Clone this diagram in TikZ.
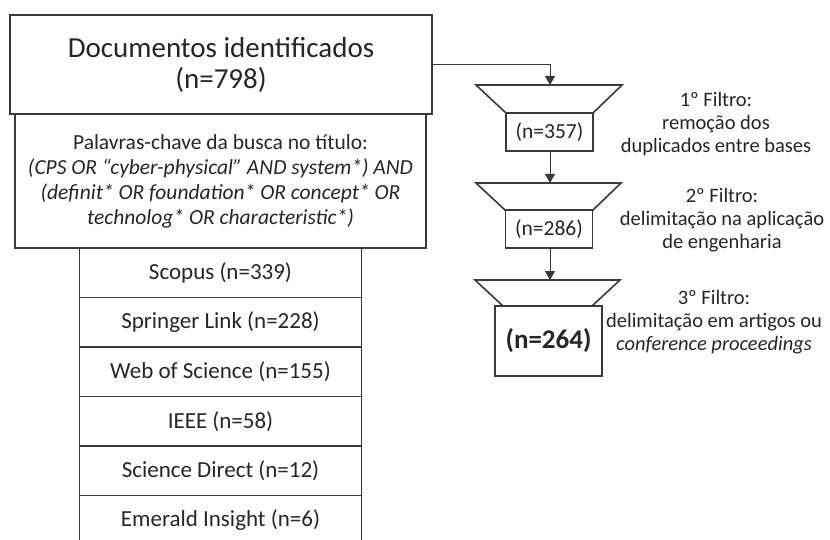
\documentclass[tikz,border=0pt]{standalone}
\usepackage{fontspec}
\setmainfont{Carlito}
\usetikzlibrary{arrows.meta}
\definecolor{ln}{HTML}{3A3A3A}
\definecolor{tx}{HTML}{262626}
\begin{document}
\begin{tikzpicture}[x=1pt,y=-1pt,
  box/.style={draw=ln, line width=1.6pt, text=tx, inner sep=0pt, align=center, anchor=center},
  dbbox/.style={box, minimum width=282pt, minimum height=49.5pt, font=\fontsize{23}{27}\selectfont},
  fbox/.style={box, minimum width=87pt, minimum height=38pt, font=\fontsize{21.5}{24}\selectfont},
  funnel/.style={draw=ln, line width=1.6pt, line join=miter},
  conn/.style={draw=ln, line width=1pt, -{Triangle[length=9pt,width=10pt]}},
  lbl/.style={text=tx, align=center, font=\fontsize{20.5}{23}\selectfont}
]
\useasboundingbox (0,0) rectangle (830,540);
\fill[white] (0,0) rectangle (830,540);
\clip (0,0) rectangle (830,540);

% left column
\node[box, minimum width=422pt, minimum height=99pt, font=\fontsize{29}{31}\selectfont] (top) at (221,64.5) {Documentos identificados\\(n=798)};
\node[box, minimum width=411pt, minimum height=134pt, font=\fontsize{21.5}{25}\selectfont] (kw) at (220.5,181) {Palavras-chave da busca no título:\\\textit{(CPS OR “cyber-physical” AND system*) AND}\\\textit{(definit* OR foundation* OR concept* OR}\\\textit{technolog* OR characteristic*)}};
\node[dbbox] (db1) at (220.5,272.75) {Scopus (n=339)};
\node[dbbox] (db2) at (220.5,322.25) {Springer Link (n=228)};
\node[dbbox] (db3) at (220.5,371.75) {Web of Science (n=155)};
\node[dbbox] (db4) at (220.5,421.25) {IEEE (n=58)};
\node[dbbox] (db5) at (220.5,470.75) {Science Direct (n=12)};
\node[dbbox] (db6) at (220.5,520.25) {Emerald Insight (n=6)};

% funnels
\draw[funnel] (476,85) -- (622,85) -- (593,113) -- (506,113) -- cycle;
\coordinate (f1) at (550,85);
\node[fbox] (b1) at (549.5,132) {(n=357)};

\draw[funnel] (476,183) -- (621,183) -- (593,210) -- (505,210) -- cycle;
\coordinate (f2) at (550,183);
\node[fbox] (b2) at (549,229) {(n=286)};

\draw[funnel] (475,280) -- (620,280) -- (592,306) -- (503,306) -- cycle;
\coordinate (f3) at (550,280);
\node[box, minimum width=107pt, minimum height=70pt, font=\fontsize{27}{30}\selectfont\bfseries] (b3) at (548.5,341) {(n=264)};

% connectors
\draw[conn] (top.east) -| (f1);
\draw[conn] (b1.south -| f2) -- (f2);
\draw[conn] (b2.south -| f3) -- (f3);

% labels
\node[lbl] (l1) at (716,124) {1º Filtro:\\remoção dos\\duplicados entre bases};
\node[lbl] (l2) at (722,220) {2º Filtro:\\delimitação na aplicação\\de engenharia};
\node[lbl] (l3) at (714,322) {3º Filtro:\\delimitação em artigos ou\\\textit{conference proceedings}};
\end{tikzpicture}
\end{document}
